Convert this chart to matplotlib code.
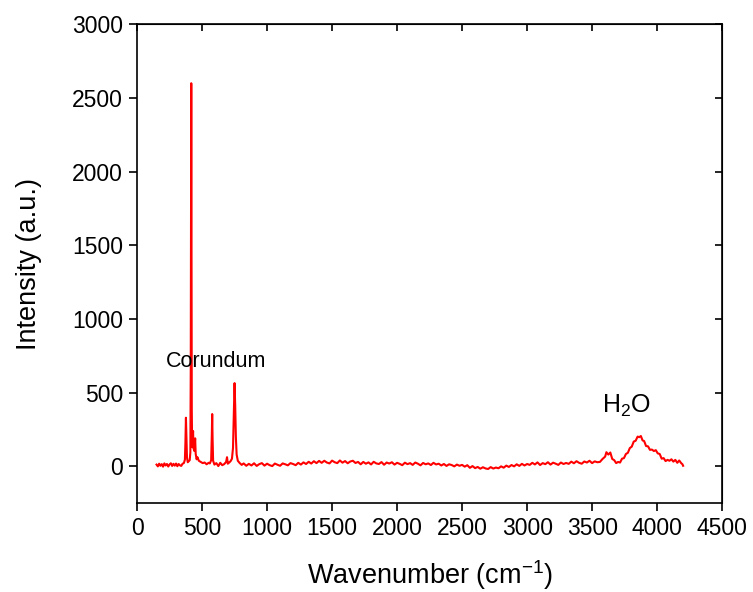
import matplotlib.pyplot as plt

plt.rcParams['font.family'] = ['Liberation Sans', 'DejaVu Sans']
plt.rcParams['mathtext.fontset'] = 'custom'
plt.rcParams['mathtext.rm'] = 'Liberation Sans'
plt.rcParams['mathtext.it'] = 'Liberation Sans'
plt.rcParams['mathtext.default'] = 'regular'

# spectre (cm-1 , intensite)
# partie basse frequence avec les pics du corindon
wn_low = [150, 160, 170, 180, 190, 200, 210, 220, 230, 240, 250, 260, 270, 280,
          290, 300, 310, 320, 330, 340, 350, 360, 368, 372, 376, 380, 384, 390,
          398, 405, 410, 413, 415, 417, 419, 421, 424, 428, 431, 434, 440, 444,
          447, 451, 458, 465, 475, 490, 505, 520, 535, 550, 560, 570, 575, 578,
          581, 585, 595, 610, 625, 640, 655, 670, 685, 692, 698, 710, 720, 730,
          738, 744, 750, 755, 760, 766, 775, 790, 805]
int_low = [12, 0, 18, 4, 15, -2, 20, 6, 16, -1, 13, 21, 3, 17,
           5, 19, 1, 16, 7, 3, 18, 22, 45, 160, 330, 190, 60, 28,
           36, 42, 95, 650, 1850, 2600, 1450, 380, 130, 185, 240, 125, 105, 150,
           190, 85, 48, 62, 38, 30, 22, 26, 14, 24, 20, 42, 210, 355,
           190, 38, 12, 22, 2, 24, 8, 15, 30, 62, 18, 27, 36, 52,
           125, 360, 565, 410, 200, 80, 38, 22, 10]

# ligne de base 820 - 3540, pas de 20
wn_base = list(range(820, 3541, 20))
int_base = [20, 4, 17, 6, 21, 3, 15, 22, 5, 18, 8, 2, 19, 11, 4, 20, 14, 7, 22, 16,
            8, 24, 12, 27, 16, 31, 19, 35, 22, 37,
            24, 38, 26, 20, 39, 28, 22, 40, 25, 36, 21, 33, 38, 23, 30,
            14, 30, 18, 27, 13, 31, 20, 16, 29, 11, 26, 19, 28, 12, 24, 17, 8, 25,
            15, 22, 10, 26, 18, 7, 23, 14, 20, 9, 24, 13,
            18, 6, 16, 3, 14, 9, 0, 12, 4, 10, -2, 8,
            -10, 2, -12, -4, -16, -6, -14, -18, -5, -15, -8, -13, 0,
            -9, 5, -4, 9, 0, 14, 3, 17, 6, 16,
            10, 24, 13, 27, 9, 22, 15, 28, 12, 25, 18, 10, 26, 16, 23,
            17, 32, 21, 35, 24, 18, 33, 26, 38, 22, 34, 28]

# bande de l'eau
wn_h2o = [3560, 3580, 3600, 3610, 3625, 3640, 3655, 3670, 3685, 3700, 3715, 3730,
          3745, 3760, 3775, 3790, 3805, 3820, 3835, 3850, 3862, 3875, 3888, 3900,
          3915, 3930, 3945, 3960, 3975, 3990, 4005, 4020, 4035, 4050, 4065, 4080,
          4095, 4110, 4125, 4140, 4155, 4170, 4185, 4195, 4200]
int_h2o = [30, 50, 66, 96, 80, 94, 50, 42, 22, 30, 26, 52,
           56, 84, 92, 124, 134, 168, 174, 202, 198, 206, 176, 172,
           138, 136, 112, 114, 104, 110, 88, 84, 52, 56, 36, 44,
           38, 48, 32, 44, 24, 40, 22, 14, 4]

wn = wn_low + wn_base + wn_h2o
intensite = int_low + int_base + int_h2o

fig = plt.figure(figsize=(7.53, 5.92), dpi=100)
ax = fig.add_axes([0.182, 0.150, 0.777, 0.809])
ax.plot(wn, intensite, color='#ff0000', lw=1.5)

ax.set_xlim(0, 4500)
ax.set_ylim(-250, 3000)
ax.set_xticks(range(0, 4501, 500))
ax.set_yticks(range(0, 3001, 500))
ax.tick_params(axis='both', labelsize=16.5, direction='out', length=6, width=1.2, pad=4)
for s in ax.spines.values():
    s.set_linewidth(1.2)

# graduations vers l'interieur en haut et a droite
ax_top = ax.secondary_xaxis('top')
ax_top.set_xticks(range(0, 4501, 500))
ax_top.tick_params(direction='in', length=5, width=1.2, labeltop=False)
ax_right = ax.secondary_yaxis('right')
ax_right.set_yticks(range(0, 3001, 500))
ax_right.tick_params(direction='in', length=5, width=1.2, labelright=False)

ax.set_xlabel('Wavenumber (cm$^{-1}$)', fontsize=19.5, labelpad=13)
ax.set_ylabel('Intensity (a.u.)', fontsize=19.5, labelpad=22)

ax.text(607, 672, 'Corundum', fontsize=15.5, ha='center', va='baseline')
ax.text(3765, 362, 'H$_2$O', fontsize=18, ha='center', va='baseline')

plt.savefig('out.png', dpi=100)
